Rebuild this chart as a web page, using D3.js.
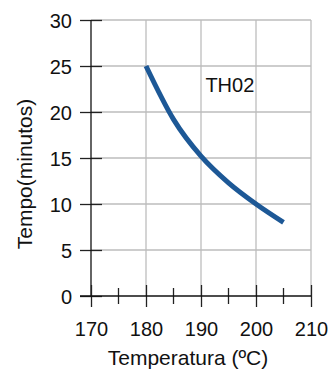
<!DOCTYPE html>
<html>
<head>
<meta charset="utf-8">
<script src="https://cdn.jsdelivr.net/npm/d3@7"></script>
<style>
  body { margin: 0; background: #fff; }
  svg text { font-family: "Liberation Sans", Arial, sans-serif; fill: #111; }
</style>
</head>
<body>
<svg id="chart" width="330" height="372"></svg>
<script>
// data
var temps = [180, 185, 190, 195, 200, 205];
var tempos = [25, 19.2, 15.2, 12.3, 10, 8];
var xTicks = [170, 180, 190, 200, 210];
var xMinor = [175, 185, 195, 205];
var yTicks = [0, 5, 10, 15, 20, 25, 30];
var seriesName = "TH02";

var svg = d3.select("#chart");
var margin = {top: 20, right: 19, bottom: 76, left: 91};
var width = +svg.attr("width") - margin.left - margin.right;
var height = +svg.attr("height") - margin.top - margin.bottom;

var g = svg.append("g")
    .attr("transform", "translate(" + margin.left + "," + margin.top + ")");

var x = d3.scaleLinear().domain([170, 210]).range([0, width]);
var y = d3.scaleLinear().domain([0, 30]).range([height, 0]);

// grid
g.append("g").selectAll("line")
    .data(xTicks.slice(1))
    .enter().append("line")
    .attr("x1", function(d) { return x(d); })
    .attr("x2", function(d) { return x(d); })
    .attr("y1", 0).attr("y2", height)
    .attr("stroke", "#bdbdbd").attr("stroke-width", 1.3);

g.append("g").selectAll("line")
    .data(yTicks.slice(1))
    .enter().append("line")
    .attr("x1", 0).attr("x2", width)
    .attr("y1", function(d) { return y(d); })
    .attr("y2", function(d) { return y(d); })
    .attr("stroke", "#bdbdbd").attr("stroke-width", 1.3);

// y axis: ticks cross the line
var yAxis = g.append("g")
    .call(d3.axisLeft(y).tickValues(yTicks).tickSizeInner(-11).tickSizeOuter(0).tickPadding(0));
yAxis.select(".domain").remove();
yAxis.selectAll(".tick line").attr("x1", -11).attr("x2", 11).attr("stroke", "#222").attr("stroke-width", 1.3);
yAxis.selectAll(".tick text").attr("x", -19).attr("dy", "0.36em")
    .style("font-size", "20px").attr("fill", "#111");
yAxis.append("line").attr("x1", 0).attr("x2", 0).attr("y1", 0).attr("y2", height)
    .attr("stroke", "#111").attr("stroke-width", 1.3);

// x axis
var xAxis = g.append("g")
    .attr("transform", "translate(0," + height + ")")
    .call(d3.axisBottom(x).tickValues(xTicks).tickSizeOuter(0).tickPadding(0));
xAxis.select(".domain").remove();
xAxis.selectAll(".tick line").attr("y1", -11).attr("y2", 11).attr("stroke", "#222").attr("stroke-width", 1.3);
xAxis.selectAll(".tick text").attr("y", 40).attr("dy", 0)
    .style("font-size", "20px").attr("fill", "#111");
xAxis.selectAll(".minor")
    .data(xMinor)
    .enter().append("line")
    .attr("class", "minor")
    .attr("x1", function(d) { return x(d); })
    .attr("x2", function(d) { return x(d); })
    .attr("y1", -8).attr("y2", 8)
    .attr("stroke", "#222").attr("stroke-width", 1.3);
xAxis.append("line").attr("x1", -11).attr("x2", width).attr("y1", 0).attr("y2", 0)
    .attr("stroke", "#111").attr("stroke-width", 1.3);

// curve
var line = d3.line()
    .x(function(d, i) { return x(temps[i]); })
    .y(function(d) { return y(d); })
    .curve(d3.curveMonotoneX);

g.append("path")
    .datum(tempos)
    .attr("fill", "none")
    .attr("stroke", "#1d5896")
    .attr("stroke-width", 5)
    .attr("d", line);

// series label
g.append("text")
    .attr("x", x(190.8))
    .attr("y", y(22.2))
    .style("font-size", "20px")
    .text(seriesName);

// axis titles
svg.append("text")
    .attr("x", 188)
    .attr("y", 365)
    .attr("text-anchor", "middle")
    .style("font-size", "21px")
    .text("Temperatura (ºC)");

svg.append("text")
    .attr("transform", "translate(32,174) rotate(-90)")
    .attr("text-anchor", "middle")
    .style("font-size", "21px")
    .text("Tempo(minutos)");
</script>
</body>
</html>
